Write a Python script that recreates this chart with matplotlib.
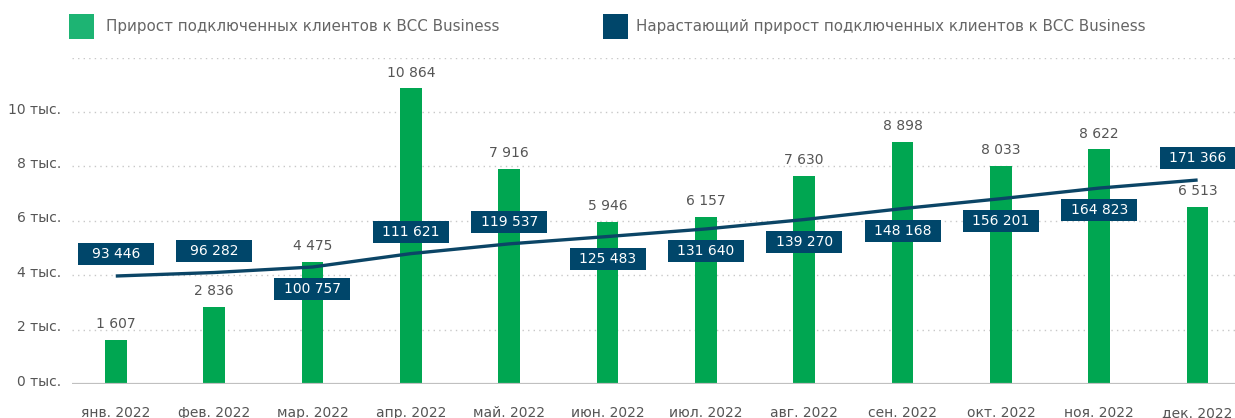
import matplotlib
matplotlib.use("Agg")
import matplotlib.pyplot as plt
import matplotlib.transforms as mtransforms
from matplotlib.patches import Rectangle

months = ["янв. 2022", "фев. 2022", "мар. 2022", "апр. 2022", "май. 2022", "июн. 2022",
          "июл. 2022", "авг. 2022", "сен. 2022", "окт. 2022", "ноя. 2022", "дек. 2022"]
monthly_growth = [1607, 2836, 4475, 10864, 7916, 5946, 6157, 7630, 8898, 8033, 8622, 6513]
cumulative_growth = [93446, 96282, 100757, 111621, 119537, 125483,
                     131640, 139270, 148168, 156201, 164823, 171366]
# label box above (+1) or below (-1) the cumulative line
label_side = [1, 1, -1, 1, 1, -1, -1, -1, -1, -1, -1, 1]

y_ticks = [0, 2000, 4000, 6000, 8000, 10000]
y_tick_labels = ["0 тыс.", "2 тыс.", "4 тыс.", "6 тыс.", "8 тыс.", "10 тыс."]

series_names = ["Прирост подключенных клиентов к BCC Business",
                "Нарастающий прирост подключенных клиентов к BCC Business"]

GREEN = "#00a651"
GREEN_LEG = "#1db473"
NAVY = "#0b4566"
NAVY_BOX = "#00466a"
TEXT = "#555555"
FONT = ["DejaVu Sans"]

plt.rcParams["font.family"] = FONT

W, H, DPI = 1235, 418, 100
fig = plt.figure(figsize=(W / DPI, H / DPI), dpi=DPI)

ax_l, ax_r, ax_b, ax_t = 72, 1235, 384, 57.6
ax = fig.add_axes([ax_l / W, (H - ax_b) / H, (ax_r - ax_l) / W, (ax_b - ax_t) / H])

x = list(range(len(months)))
ax.bar(x, monthly_growth, width=0.22, color=GREEN, zorder=2)
ax.set_xlim(-0.445, 11.38)
ax.set_ylim(0, 12000)

# dotted grid lines
for gy in [2000, 4000, 6000, 8000, 10000, 12000]:
    ax.axhline(gy, color="#c8c8c8", linewidth=1.0, linestyle=(0, (1, 3)), zorder=0)
ax.axhline(0, color="#c0c0c0", linewidth=1.6, zorder=3)

for s in ax.spines.values():
    s.set_visible(False)

ax.set_yticks(y_ticks)
ax.set_yticklabels(y_tick_labels, color=TEXT, fontsize=10)
ax.tick_params(axis="y", length=0, pad=8)
shift = mtransforms.ScaledTranslation(0, 4 / DPI, fig.dpi_scale_trans)
for lbl in ax.get_yticklabels():
    lbl.set_transform(lbl.get_transform() + shift)

ax.set_xticks(x)
ax.set_xticklabels(months, color=TEXT, fontsize=10)
ax.tick_params(axis="x", length=0, pad=16)

for xi, v in zip(x, monthly_growth):
    ax.annotate(f"{v:,}".replace(",", " "), (xi, v), xytext=(0, 11.5),
                textcoords="offset points", ha="center", va="center",
                color=TEXT, fontsize=10, zorder=4)

# cumulative line on a hidden secondary scale
ax2 = ax.twinx()
sec_lo = 5808
sec_per_unit = 22.075
ax2.set_ylim(sec_lo, sec_lo + 12000 * sec_per_unit)
ax2.axis("off")
ax2.plot(x, cumulative_growth, color=NAVY, linewidth=2.4, zorder=3,
         solid_capstyle="butt")

box_w, box_h, box_off = 76 / DPI, 22 / DPI, 22 / DPI
for xi, v, side in zip(x, cumulative_growth, label_side):
    tr = fig.dpi_scale_trans + mtransforms.ScaledTranslation(xi, v, ax2.transData)
    ax2.add_patch(Rectangle((-box_w / 2, side * box_off - box_h / 2), box_w, box_h,
                            transform=tr, facecolor=NAVY_BOX, edgecolor="none",
                            zorder=5, clip_on=False))
    ax2.annotate(f"{v:,}".replace(",", " "), (xi, v),
                 xytext=(0, side * box_off * 72), textcoords="offset points",
                 ha="center", va="center", color="white", fontsize=10, zorder=6)

# legend
def legend_item(x0, text_x, color, text):
    fig.patches.append(Rectangle((x0 / W, (H - 39) / H), 25 / W, 25 / H,
                                 transform=fig.transFigure, facecolor=color,
                                 edgecolor="none"))
    fig.text(text_x / W, (H - 27) / H, text, ha="left", va="center",
             color="#666666", fontsize=10.9)

legend_item(69, 106, GREEN_LEG, series_names[0])
legend_item(603, 636, NAVY_BOX, series_names[1])

fig.savefig("out.png", dpi=DPI)
